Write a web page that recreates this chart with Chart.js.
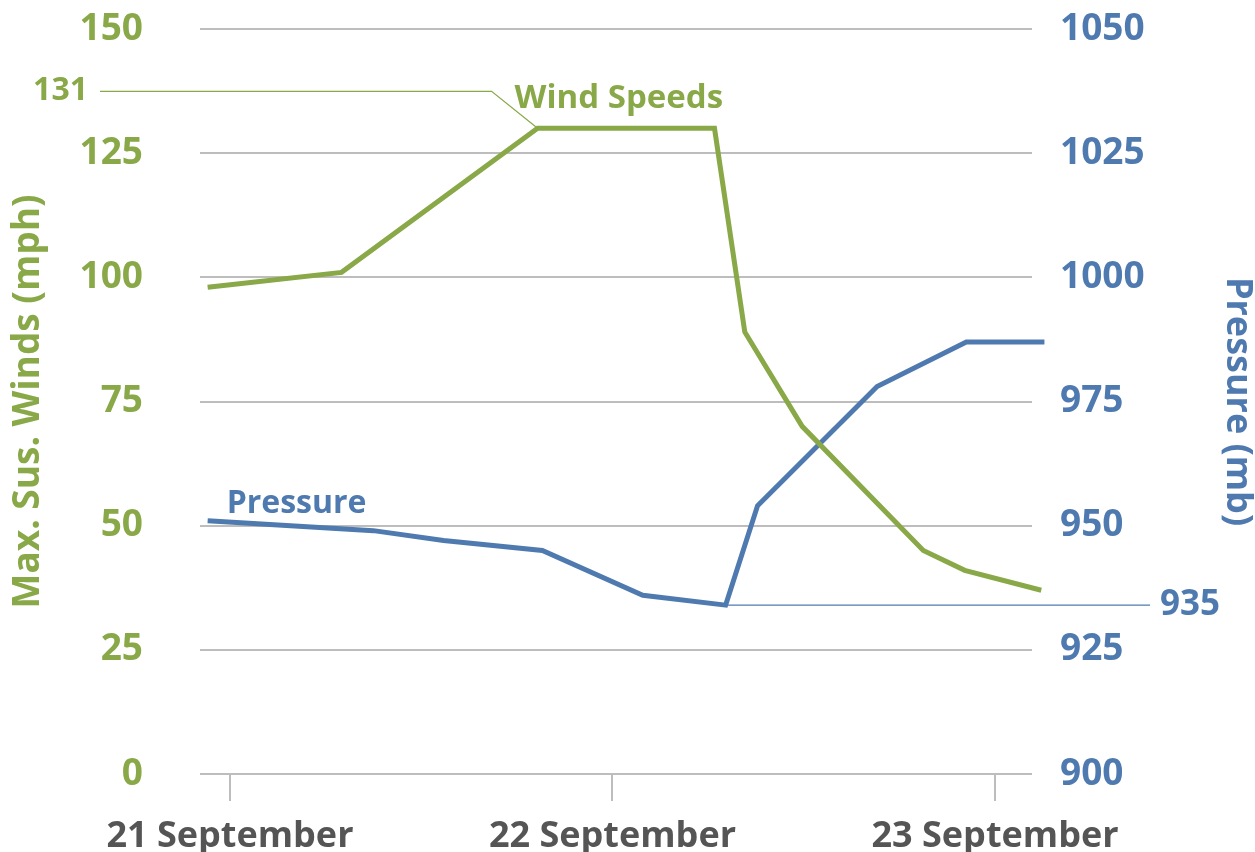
<!DOCTYPE html>
<html>
<head>
<meta charset="utf-8">
<script src="https://cdn.jsdelivr.net/npm/chart.js@4/dist/chart.umd.min.js"></script>
<style>
  html, body { margin: 0; padding: 0; background: #fff; }
  #wrap { width: 1255px; height: 852px; }
</style>
</head>
<body>
<div id="wrap"><canvas id="myChart" width="1255" height="852"></canvas></div>
<script>
// hours after 21 September 00:00
var windHours = [-1.4, 7.0, 19.3, 30.4, 32.3, 35.9, 43.5, 46.1, 50.9];
var windSpeeds = [98, 101, 130, 130, 89, 70, 45, 41, 37];
var pressHours = [-1.4, 9.0, 13.4, 19.6, 25.9, 31.1, 33.1, 40.6, 46.2, 51.1];
var pressures = [951, 949, 947, 945, 936, 934, 954, 978, 987, 987];
var dayTicks = [0, 24, 48];
var dayLabels = ["21 September", "22 September", "23 September"];
var peakLabel = "131";
var lowLabel = "935";

var green = "#89a848";
var blue = "#4f7ab0";
var grey = "#bdbdbd";
var fontName = "'Open Sans', sans-serif";

function pts(xs, ys) {
  var out = [];
  for (var i = 0; i < xs.length; i++) out.push({x: xs[i], y: ys[i]});
  return out;
}

// labels and leader lines drawn on top of the lines
var notes = {
  id: "notes",
  afterDatasetsDraw: function(chart) {
    var ctx = chart.ctx;
    var area = chart.chartArea;
    var x = chart.scales.x, y = chart.scales.y, y1 = chart.scales.y1;
    ctx.save();
    ctx.textBaseline = "middle";

    // peak wind
    var px = x.getPixelForValue(windHours[2]);
    var py = y.getPixelForValue(windSpeeds[2]);
    ctx.strokeStyle = green;
    ctx.lineWidth = 1.2;
    ctx.beginPath();
    ctx.moveTo(px, py);
    ctx.lineTo(px - 46, py - 37);
    ctx.lineTo(area.left - 100, py - 37);
    ctx.stroke();
    ctx.fillStyle = green;
    ctx.font = "bold 32px " + fontName;
    ctx.textAlign = "right";
    ctx.fillText(peakLabel, area.left - 112, py - 37);
    ctx.font = "bold 33px " + fontName;
    ctx.textAlign = "left";
    ctx.fillText("Wind Speeds", px - 23, py - 30);

    // lowest pressure
    var lx = x.getPixelForValue(pressHours[5]);
    var ly = y1.getPixelForValue(pressures[5]);
    ctx.strokeStyle = blue;
    ctx.beginPath();
    ctx.moveTo(lx, ly);
    ctx.lineTo(area.right + 118, ly);
    ctx.stroke();
    ctx.fillStyle = blue;
    ctx.font = "bold 35px " + fontName;
    ctx.fillText(lowLabel, area.right + 128, ly);

    var sx = x.getPixelForValue(pressHours[0]);
    var sy = y1.getPixelForValue(pressures[0]);
    ctx.font = "bold 32px " + fontName;
    ctx.fillText("Pressure", sx + 19, sy - 17);
    ctx.restore();
  }
};

const myChart = new Chart("myChart", {
  type: "line",
  data: {
    datasets: [
      {label: "Wind Speeds", data: pts(windHours, windSpeeds), yAxisID: "y",
       borderColor: green, borderWidth: 5, pointRadius: 0, tension: 0, clip: false},
      {label: "Pressure", data: pts(pressHours, pressures), yAxisID: "y1",
       borderColor: blue, borderWidth: 5, pointRadius: 0, tension: 0, clip: false}
    ]
  },
  options: {
    responsive: false,
    animation: false,
    layout: {padding: {top: 29, left: 0, right: 0, bottom: 0}},
    plugins: {legend: {display: false}, tooltip: {enabled: false}},
    scales: {
      x: {
        type: "linear",
        min: -1.88,
        max: 50.32,
        afterBuildTicks: function(s) { s.ticks = dayTicks.map(function(v) { return {value: v}; }); },
        afterFit: function(s) { s.height = 78; },
        grid: {drawOnChartArea: false, color: grey, lineWidth: 2, tickLength: 27},
        border: {display: false},
        ticks: {
          color: "#555555",
          font: {family: fontName, size: 36, weight: "bold"},
          padding: 14,
          maxRotation: 0,
          callback: function(v) { return dayLabels[dayTicks.indexOf(v)]; }
        }
      },
      y: {
        position: "left",
        min: 0, max: 150,
        afterFit: function(s) { s.width = 200; },
        grid: {color: grey, lineWidth: 2, drawTicks: true, tickLength: 57, tickColor: "rgba(0,0,0,0)"},
        border: {display: false},
        ticks: {stepSize: 25, color: green, padding: 0,
                font: {family: fontName, size: 37, weight: "bold"}},
        title: {display: true, text: "Max. Sus. Winds (mph)", color: green,
                font: {family: fontName, size: 37, weight: "bold", lineHeight: 1},
                padding: {top: 10, bottom: 0}}
      },
      y1: {
        position: "right",
        min: 900, max: 1050,
        afterFit: function(s) { s.width = 223; },
        grid: {drawOnChartArea: false, drawTicks: true, tickLength: 28, tickColor: "rgba(0,0,0,0)"},
        border: {display: false},
        ticks: {stepSize: 25, color: blue, padding: 0,
                font: {family: fontName, size: 37, weight: "bold"},
                callback: function(v) { return String(v); }},
        title: {display: true, text: "Pressure (mb)", color: blue,
                font: {family: fontName, size: 36, weight: "bold", lineHeight: 1},
                padding: {top: 0, bottom: 0}}
      }
    }
  },
  plugins: [notes]
});
</script>
</body>
</html>
